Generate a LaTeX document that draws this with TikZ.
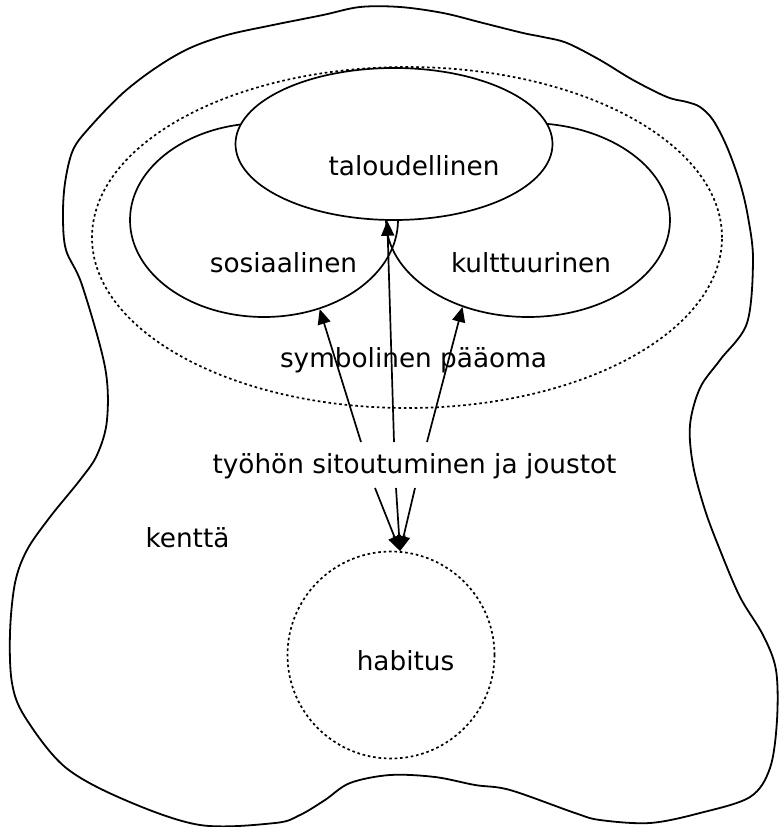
\documentclass[tikz,border=0pt]{standalone}
\usepackage{fontspec}
\setmainfont{DejaVu Sans}
\usetikzlibrary{shapes.geometric,arrows.meta}
\begin{document}
\begin{tikzpicture}[x=1pt,y=-1pt,
  txt/.style={font=\fontsize{26.3}{30}\selectfont, inner sep=0pt, anchor=base},
  dotline/.style={line width=1.7pt, dash pattern=on 2.6pt off 2.8pt},
  oval/.style={ellipse, inner sep=0pt, line width=1.7pt},
  arr/.style={line width=1.7pt, -{Triangle[length=15pt,width=13pt]}},
]
\useasboundingbox (0,0) rectangle (779,827);
% field outline
\draw[line width=1.8pt] plot[smooth cycle, tension=0.55] coordinates {
 (400,7) (443,13) (483,23) (523,33) (543,37) (567,43) (600,60) (633,80) (667,97)
 (687,102) (700,107) (713,120) (727,147) (740,183) (748,217) (753,260) (747,323)
 (720,360) (700,388) (690,425)
 (693,465) (705,510) (720,550) (740,597) (763,635) (776,670) (777,720) (770,768)
 (750,797) (700,813) (650,823) (600,820) (575,813) (510,790) (475,785) (435,777)
 (390,775) (350,783) (325,800) (300,815) (275,823) (200,825) (125,800) (65,767)
 (25,717) (12,683) (10,633) (15,583) (27,550) (50,517) (80,480) (97,455) (107,420)
 (105,367) (82,285) (66,250) (63,217) (65,183) (73,150) (90,127) (123,93) (157,67)
 (190,48) (227,35) (273,25) (323,15) (360,7)};
% symbolic capital (dotted)
\node[oval, dotline, draw, minimum width=630pt, minimum height=341pt] (sym) at (407,237.5) {};
% forms of capital
\node[oval, draw, minimum width=268pt, minimum height=194pt] (sos) at (264,220) {};
\node[oval, draw, minimum width=284pt, minimum height=194pt] (kult) at (528,220) {};
\node[oval, draw, fill=white, minimum width=317pt, minimum height=152pt] (tal) at (394,144) {};
% habitus
\node[circle, dotline, draw, inner sep=0pt, minimum size=207pt] (hab) at (391,655) {};
% labels
\node[txt] (taltxt) at (414,175) {taloudellinen};
\node[txt] (sostxt) at (283.5,272) {sosiaalinen};
\node[txt] (kulttxt) at (531,272) {kulttuurinen};
\node[txt] (symtxt) at (413.5,367) {symbolinen pääoma};
\node[txt] (lbl) at (414.5,473) {työhön sitoutuminen ja joustot};
\node[txt] (kentta) at (187.5,547) {kenttä};
\node[txt] (habtxt) at (405.5,670) {habitus};
% arrow ends
\coordinate (u1) at (361,442);
\coordinate (u2) at (394,442);
\coordinate (u3) at (427,442);
\coordinate (d1) at (375,488);
\coordinate (d2) at (396,488);
\coordinate (d3) at (415,488);
\draw[arr] (u1) -- (sos.-58);
\draw[arr] (u2) -- (tal.-95);
\draw[arr] (u3) -- (kult.-127);
\draw[arr] (d1) -- (hab.85);
\draw[arr] (d2) -- (hab.85);
\draw[arr] (d3) -- (hab.85);
\end{tikzpicture}
\end{document}
